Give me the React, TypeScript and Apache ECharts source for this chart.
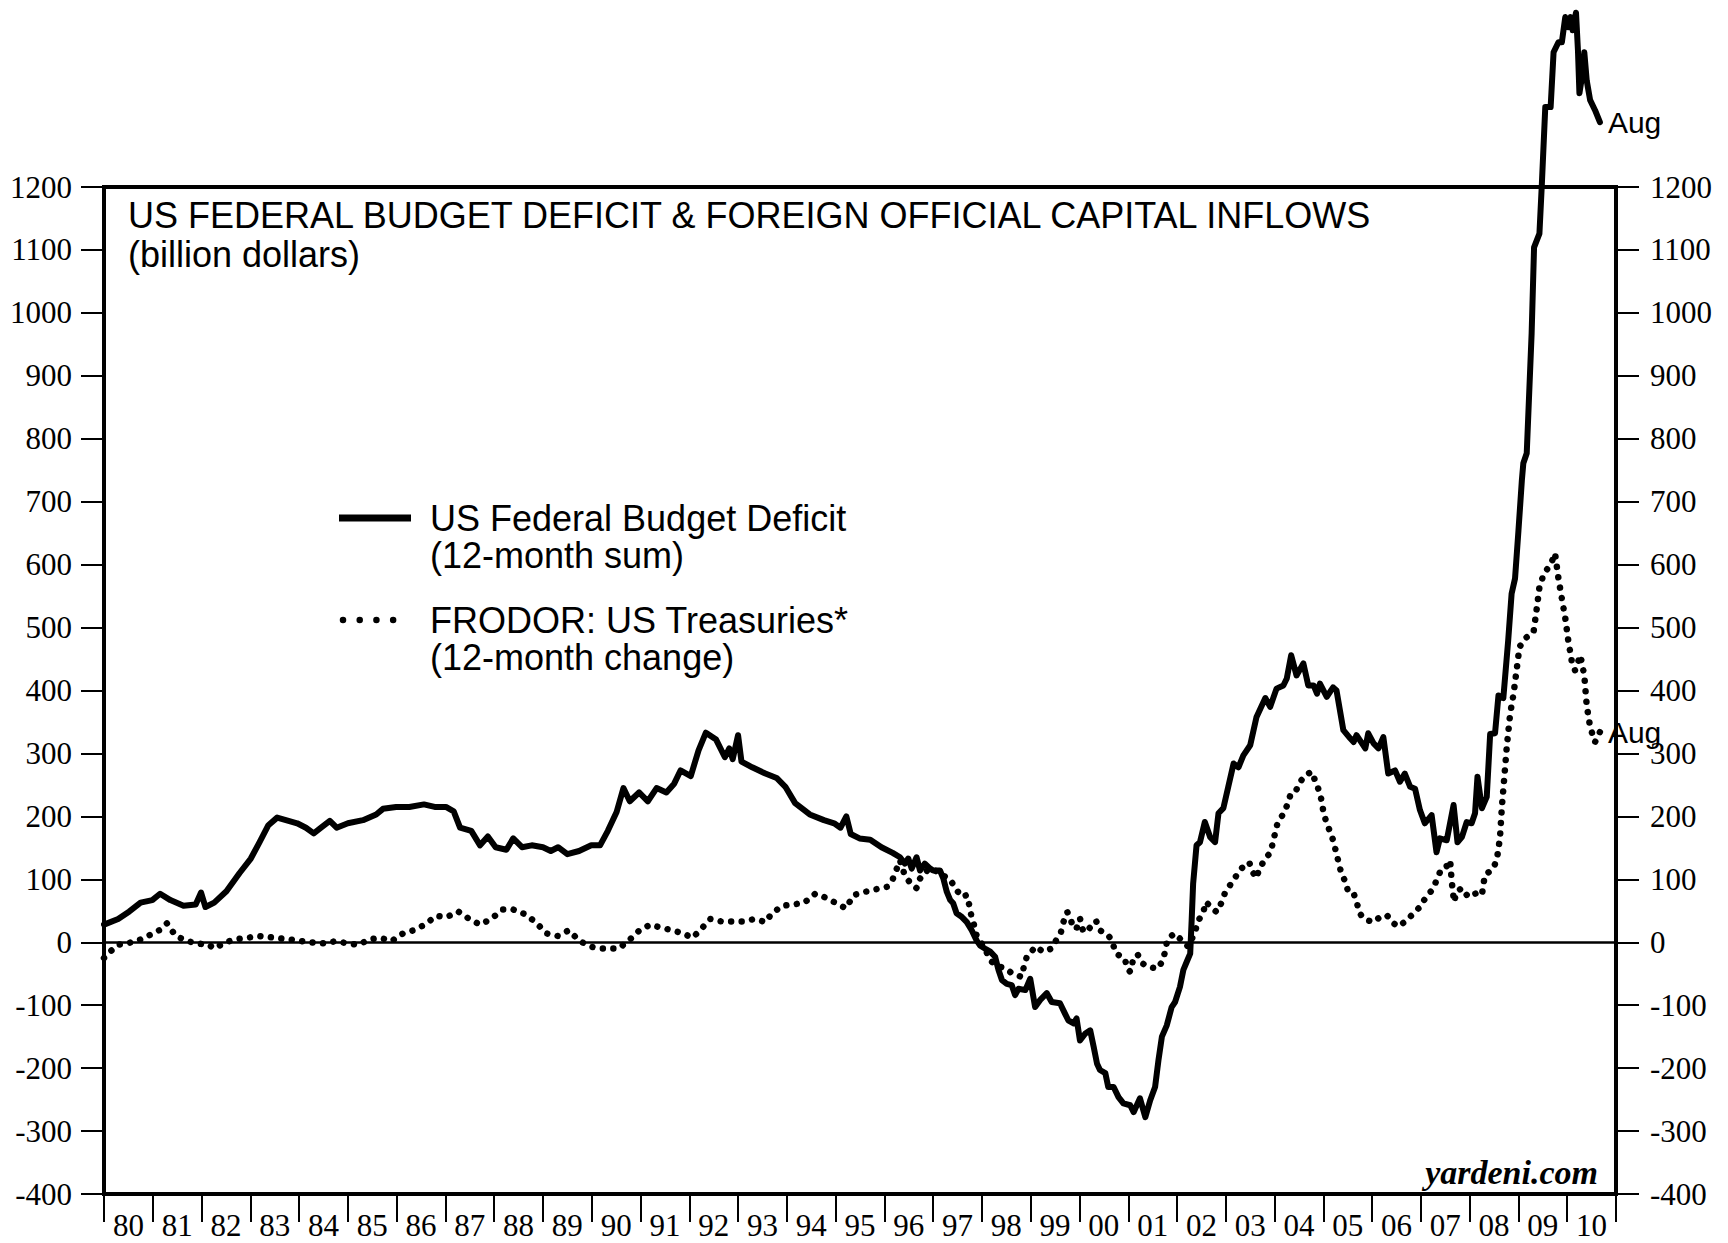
import React, { useEffect, useRef } from "react";
import * as echarts from "echarts";

const yearLabels = [
  "80", "81", "82", "83", "84", "85", "86", "87", "88", "89",
  "90", "91", "92", "93", "94", "95", "96", "97", "98", "99",
  "00", "01", "02", "03", "04", "05", "06", "07", "08", "09", "10",
];

const yMin = -400;
const yMax = 1200;
const yInterval = 100;

const titleText = "US FEDERAL BUDGET DEFICIT & FOREIGN OFFICIAL CAPITAL INFLOWS";
const subtitleText = "(billion dollars)";

const deficitName = "US Federal Budget Deficit";
const deficitNote = "(12-month sum)";
const frodorName = "FRODOR: US Treasuries*";
const frodorNote = "(12-month change)";

// [year (decimal), billion dollars]
const deficit: [number, number][] = [
  [1980.0, 28], [1980.29, 37], [1980.52, 49], [1980.75, 63], [1980.99, 67],
  [1981.15, 77], [1981.36, 67], [1981.63, 58], [1981.88, 60], [1981.99, 79],
  [1982.08, 56], [1982.26, 63], [1982.51, 81], [1982.78, 110], [1983.01, 133],
  [1983.19, 159], [1983.37, 186], [1983.55, 198], [1983.73, 194], [1983.96, 189],
  [1984.14, 182], [1984.3, 173], [1984.45, 182], [1984.63, 193], [1984.77, 182],
  [1985.0, 189], [1985.31, 194], [1985.58, 203], [1985.72, 212], [1985.99, 215],
  [1986.26, 215], [1986.56, 219], [1986.78, 215], [1987.01, 215], [1987.17, 208],
  [1987.3, 182], [1987.53, 177], [1987.71, 154], [1987.87, 168], [1988.03, 151],
  [1988.25, 147], [1988.39, 165], [1988.57, 151], [1988.77, 154], [1989.0, 151],
  [1989.16, 145], [1989.31, 151], [1989.5, 140], [1989.74, 145], [1989.99, 154],
  [1990.17, 154], [1990.33, 177], [1990.51, 207], [1990.65, 245], [1990.78, 224],
  [1990.97, 238], [1991.15, 224], [1991.33, 245], [1991.53, 238], [1991.69, 252],
  [1991.82, 273], [1992.03, 264], [1992.19, 305], [1992.34, 333], [1992.55, 322],
  [1992.73, 294], [1992.82, 308], [1992.89, 291], [1993.0, 329], [1993.07, 287],
  [1993.29, 278], [1993.56, 268], [1993.79, 261], [1993.97, 247], [1994.17, 221],
  [1994.47, 203], [1994.76, 194], [1994.97, 189], [1995.1, 182], [1995.22, 200],
  [1995.31, 172], [1995.49, 165], [1995.71, 163], [1995.94, 151], [1996.17, 142],
  [1996.32, 135], [1996.42, 125], [1996.49, 133], [1996.56, 117], [1996.66, 135],
  [1996.73, 114], [1996.83, 125], [1996.94, 117], [1997.0, 114], [1997.14, 114],
  [1997.21, 101], [1997.28, 80], [1997.35, 67], [1997.41, 62], [1997.48, 46],
  [1997.59, 40], [1997.69, 32], [1997.79, 19], [1997.89, 3], [1997.96, -5],
  [1998.06, -10], [1998.17, -15], [1998.27, -23], [1998.34, -44], [1998.41, -60],
  [1998.51, -66], [1998.61, -68], [1998.68, -84], [1998.75, -74], [1998.89, -76],
  [1998.99, -58], [1999.09, -103], [1999.19, -92], [1999.33, -81], [1999.43, -95],
  [1999.6, -97], [1999.7, -113], [1999.77, -124], [1999.88, -129], [1999.94, -121],
  [2000.01, -156], [2000.12, -145], [2000.22, -140], [2000.29, -166], [2000.36, -193],
  [2000.42, -203], [2000.53, -208], [2000.59, -230], [2000.7, -230], [2000.8, -246],
  [2000.9, -256], [2001.04, -259], [2001.11, -270], [2001.24, -248], [2001.35, -278],
  [2001.45, -251], [2001.55, -230], [2001.62, -187], [2001.69, -150], [2001.79, -132],
  [2001.89, -103], [2001.96, -95], [2002.06, -71], [2002.13, -44], [2002.21, -29],
  [2002.27, -18], [2002.3, 35], [2002.33, 93], [2002.4, 154], [2002.47, 159],
  [2002.57, 191], [2002.68, 167], [2002.78, 159], [2002.85, 205], [2002.95, 213],
  [2003.05, 247], [2003.16, 284], [2003.26, 278], [2003.36, 297], [2003.5, 313],
  [2003.63, 358], [2003.81, 388], [2003.91, 374], [2004.04, 403], [2004.18, 408],
  [2004.25, 419], [2004.34, 456], [2004.45, 424], [2004.59, 443], [2004.69, 408],
  [2004.8, 408], [2004.87, 395], [2004.93, 411], [2005.07, 390], [2005.2, 405],
  [2005.27, 400], [2005.41, 337], [2005.55, 324], [2005.62, 318], [2005.68, 329],
  [2005.86, 308], [2005.92, 332], [2006.03, 316], [2006.13, 308], [2006.23, 326],
  [2006.33, 268], [2006.47, 273], [2006.57, 255], [2006.67, 268], [2006.78, 247],
  [2006.88, 244], [2006.98, 210], [2007.08, 189], [2007.22, 202], [2007.32, 143],
  [2007.39, 165], [2007.53, 162], [2007.67, 218], [2007.75, 159], [2007.84, 167],
  [2007.94, 191], [2008.04, 189], [2008.11, 205], [2008.16, 263], [2008.25, 213],
  [2008.35, 231], [2008.42, 331], [2008.52, 332], [2008.59, 392], [2008.69, 388],
  [2008.79, 480], [2008.86, 554], [2008.93, 578], [2009.0, 654], [2009.07, 734],
  [2009.1, 761], [2009.17, 777], [2009.27, 967], [2009.32, 1104], [2009.43, 1126],
  [2009.48, 1205], [2009.55, 1327], [2009.66, 1327], [2009.72, 1414], [2009.82, 1430],
  [2009.89, 1430], [2009.96, 1470], [2010.02, 1454], [2010.07, 1470], [2010.11, 1449],
  [2010.18, 1477], [2010.22, 1417], [2010.25, 1349], [2010.3, 1374], [2010.35, 1414],
  [2010.4, 1369], [2010.47, 1338], [2010.57, 1322], [2010.67, 1303],
];

const frodor: [number, number][] = [
  [1980.0, -25], [1980.11, -16], [1980.29, -4], [1980.45, -2], [1980.68, 2],
  [1980.9, 10], [1981.13, 19], [1981.29, 30], [1981.47, 10], [1981.7, 2],
  [1981.92, -2], [1982.15, -4], [1982.26, -10], [1982.49, 0], [1982.71, 5],
  [1982.94, 7], [1983.17, 10], [1983.51, 7], [1983.85, 4], [1984.19, 0],
  [1984.53, -2], [1984.76, 2], [1984.99, -2], [1985.22, -4], [1985.45, 5],
  [1985.67, 7], [1985.9, 2], [1986.13, 14], [1986.35, 19], [1986.58, 28],
  [1986.81, 42], [1987.03, 40], [1987.26, 49], [1987.49, 37], [1987.71, 28],
  [1987.94, 37], [1988.17, 52], [1988.39, 52], [1988.62, 45], [1988.85, 32],
  [1989.07, 14], [1989.3, 10], [1989.53, 19], [1989.75, 2], [1989.98, -7],
  [1990.21, -10], [1990.55, -10], [1990.75, 2], [1990.98, 19], [1991.2, 28],
  [1991.43, 23], [1991.65, 19], [1991.88, 14], [1992.06, 7], [1992.21, 18],
  [1992.43, 37], [1992.66, 33], [1992.89, 33], [1993.11, 33], [1993.34, 37],
  [1993.57, 32], [1993.68, 45], [1993.91, 58], [1994.13, 60], [1994.36, 63],
  [1994.58, 77], [1994.76, 72], [1994.99, 63], [1995.21, 54], [1995.37, 75],
  [1995.6, 80], [1995.82, 84], [1996.05, 88], [1996.16, 98], [1996.27, 120],
  [1996.32, 130], [1996.42, 106], [1996.56, 91], [1996.66, 86], [1996.73, 101],
  [1996.8, 110], [1996.97, 118], [1997.11, 110], [1997.35, 100], [1997.45, 86],
  [1997.59, 72], [1997.69, 75], [1997.74, 59], [1997.78, 43], [1997.84, 27],
  [1997.89, 11], [1998.02, -5], [1998.11, -18], [1998.2, -31], [1998.37, -39],
  [1998.49, -42], [1998.61, -49], [1998.71, -52], [1998.81, -55], [1998.86, -39],
  [1998.92, -23], [1998.99, -18], [1999.09, -7], [1999.26, -15], [1999.43, -10],
  [1999.52, 3], [1999.62, 16], [1999.67, 32], [1999.75, 48], [1999.81, 38],
  [1999.88, 22], [1999.94, 22], [2000.01, 38], [2000.08, 16], [2000.2, 22],
  [2000.34, 34], [2000.42, 19], [2000.59, 11], [2000.66, 3], [2000.75, -18],
  [2000.93, -26], [2000.98, -42], [2001.04, -47], [2001.09, -31], [2001.19, -19],
  [2001.3, -34], [2001.41, -39], [2001.6, -42], [2001.71, -29], [2001.76, -13],
  [2001.8, 4], [2001.94, 14], [2002.1, 3], [2002.23, -7], [2002.37, 16],
  [2002.42, 32], [2002.54, 48], [2002.59, 64], [2002.7, 56], [2002.81, 48],
  [2002.92, 64], [2002.98, 78], [2003.09, 91], [2003.21, 105], [2003.33, 118],
  [2003.48, 127], [2003.55, 112], [2003.62, 102], [2003.7, 118], [2003.8, 132],
  [2003.92, 143], [2003.96, 157], [2004.01, 173], [2004.06, 189], [2004.17, 203],
  [2004.26, 218], [2004.32, 233], [2004.42, 237], [2004.5, 252], [2004.62, 265],
  [2004.76, 271], [2004.84, 255], [2004.92, 239], [2004.97, 223], [2005.0, 207],
  [2005.06, 191], [2005.14, 175], [2005.21, 160], [2005.26, 143], [2005.31, 128],
  [2005.36, 112], [2005.45, 96], [2005.51, 80], [2005.62, 78], [2005.69, 62],
  [2005.74, 46], [2005.86, 36], [2006.03, 32], [2006.16, 40], [2006.3, 43],
  [2006.44, 30], [2006.54, 25], [2006.71, 35], [2006.85, 46], [2006.98, 56],
  [2007.09, 70], [2007.26, 86], [2007.33, 101], [2007.43, 118], [2007.53, 121],
  [2007.6, 130], [2007.63, 98], [2007.68, 64], [2007.73, 80], [2007.84, 86],
  [2007.97, 72], [2008.14, 78], [2008.25, 75], [2008.31, 106], [2008.49, 118],
  [2008.56, 133], [2008.62, 165], [2008.66, 215], [2008.71, 262], [2008.76, 310],
  [2008.83, 363], [2008.9, 395], [2008.97, 437], [2009.02, 469], [2009.14, 483],
  [2009.31, 493], [2009.38, 533], [2009.43, 564], [2009.51, 583], [2009.68, 604],
  [2009.75, 618], [2009.82, 578], [2009.89, 546], [2009.96, 515], [2010.02, 480],
  [2010.09, 448], [2010.16, 432], [2010.27, 456], [2010.35, 424], [2010.4, 376],
  [2010.47, 342], [2010.57, 318], [2010.67, 334],
];

const lastMonthLabel = "Aug";
const sourceText = "yardeni.com";

const SERIF = "'Liberation Serif', 'Times New Roman', serif";
const SANS = "'Liberation Sans', Arial, sans-serif";

export default function App() {
  const ref = useRef<HTMLDivElement>(null);

  useEffect(() => {
    if (!ref.current) return;
    const chart = echarts.init(ref.current, null, { renderer: "svg" });

    const yAxisCommon = {
      type: "value",
      min: yMin,
      max: yMax,
      interval: yInterval,
      axisLine: { show: false },
      splitLine: { show: false },
      axisTick: { show: true, length: 23, lineStyle: { color: "#000", width: 2 } },
    };
    const yLabel = (margin: number) => ({
      margin,
      fontSize: 31,
      fontFamily: SERIF,
      color: "#000",
      formatter: (v: number) => String(v),
    });

    const legendText = (text: string, y: number) => ({
      type: "text",
      x: 430,
      y,
      silent: true,
      style: {
        text,
        font: "36px " + SANS,
        fill: "#000",
        textAlign: "left",
        textVerticalAlign: "middle",
      },
    });

    chart.setOption({
      animation: false,
      backgroundColor: "#fff",
      title: {
        text: titleText,
        subtext: subtitleText,
        left: 128,
        top: 198,
        padding: 0,
        itemGap: 3,
        textStyle: { fontSize: 36, fontWeight: "normal", fontFamily: SANS, color: "#000", lineHeight: 35 },
        subtextStyle: { fontSize: 36, fontFamily: SANS, color: "#000", lineHeight: 35 },
      },
      grid: {
        left: 104,
        right: 112,
        top: 187,
        bottom: 49,
        show: true,
        borderColor: "#000",
        borderWidth: 4,
        backgroundColor: "transparent",
      },
      xAxis: [
        {
          type: "category",
          data: yearLabels,
          boundaryGap: true,
          position: "bottom",
          axisLine: { show: false, onZero: false },
          axisTick: { show: true, length: 28, interval: 0, lineStyle: { color: "#000", width: 2 } },
          axisLabel: { interval: 0, margin: 16, fontSize: 31, fontFamily: SERIF, color: "#000" },
          splitLine: { show: false },
        },
        {
          type: "value",
          min: 1980,
          max: 2011,
          show: false,
        },
      ],
      yAxis: [
        { ...yAxisCommon, position: "left", axisLabel: yLabel(32) },
        { ...yAxisCommon, position: "right", axisLabel: yLabel(34) },
      ],
      graphic: [
        {
          type: "line",
          silent: true,
          shape: { x1: 339, y1: 518, x2: 411, y2: 518 },
          style: { stroke: "#000", lineWidth: 7 },
        },
        legendText(deficitName, 518),
        legendText(deficitNote, 555),
        {
          type: "line",
          silent: true,
          shape: { x1: 343, y1: 620, x2: 396, y2: 620 },
          style: { stroke: "#000", lineWidth: 6.5, lineCap: "round", lineDash: [0.01, 16.7] },
        },
        legendText(frodorName, 620),
        legendText(frodorNote, 657),
        {
          type: "text",
          x: 1598,
          y: 1172,
          silent: true,
          style: {
            text: sourceText,
            font: "italic bold 34px " + SERIF,
            fill: "#000",
            textAlign: "right",
            textVerticalAlign: "middle",
          },
        },
      ],
      series: [
        {
          name: frodorName,
          type: "line",
          xAxisIndex: 1,
          yAxisIndex: 0,
          data: frodor,
          symbol: "none",
          clip: false,
          lineStyle: { color: "#000", width: 6.5, type: [0.01, 10.5], cap: "round", join: "round" },
          endLabel: {
            show: true,
            formatter: lastMonthLabel,
            distance: 8,
            fontSize: 30,
            fontFamily: SANS,
            color: "#000",
          },
          markLine: {
            silent: true,
            symbol: ["none", "none"],
            label: { show: false },
            lineStyle: { color: "#000", width: 2.5, type: "solid" },
            data: [{ yAxis: 0 }],
          },
        },
        {
          name: deficitName,
          type: "line",
          xAxisIndex: 1,
          yAxisIndex: 0,
          data: deficit,
          symbol: "none",
          clip: false,
          lineStyle: { color: "#000", width: 6, cap: "round", join: "round" },
          endLabel: {
            show: true,
            formatter: lastMonthLabel,
            distance: 8,
            fontSize: 30,
            fontFamily: SANS,
            color: "#000",
          },
        },
      ],
    });

    return () => chart.dispose();
  }, []);

  return (
    <div
      ref={ref}
      style={{ position: "absolute", left: 0, top: 0, width: 1728, height: 1243, background: "#fff" }}
    />
  );
}
